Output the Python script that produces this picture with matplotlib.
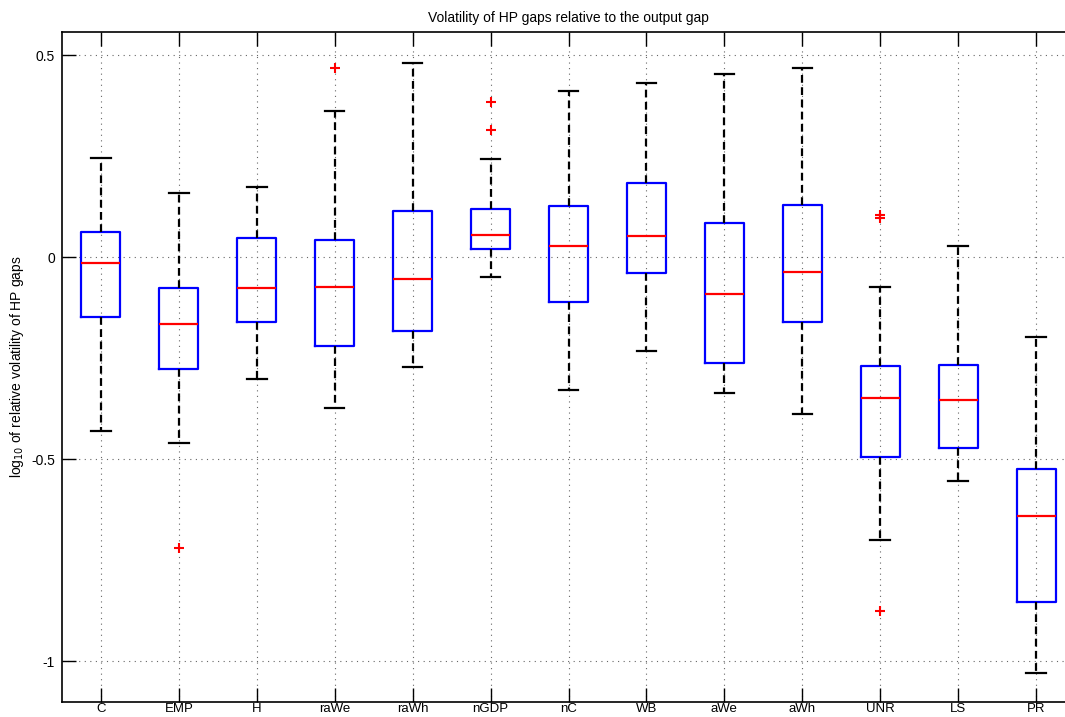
import matplotlib
matplotlib.use("Agg")
import matplotlib.pyplot as plt

plt.rcParams['font.family'] = ['Liberation Sans', 'DejaVu Sans']

categories = ["C", "EMP", "H", "raWe", "raWh", "nGDP", "nC", "WB", "aWe", "aWh", "UNR", "LS", "PR"]
whisker_low = [-0.430, -0.459, -0.301, -0.374, -0.272, -0.049, -0.329, -0.233, -0.337, -0.389, -0.701, -0.554, -1.028]
q1 = [-0.148, -0.277, -0.160, -0.219, -0.183, 0.019, -0.112, -0.039, -0.261, -0.160, -0.495, -0.472, -0.853]
medians = [-0.015, -0.166, -0.076, -0.074, -0.054, 0.055, 0.028, 0.053, -0.091, -0.036, -0.348, -0.354, -0.641]
q3 = [0.0625, -0.077, 0.047, 0.043, 0.115, 0.118, 0.127, 0.183, 0.085, 0.129, -0.269, -0.267, -0.524]
whisker_high = [0.244, 0.158, 0.173, 0.362, 0.481, 0.243, 0.410, 0.430, 0.453, 0.469, -0.075, 0.028, -0.198]
outliers = [[], [-0.720], [], [0.468], [], [0.385, 0.315], [], [], [], [], [0.104, 0.097, -0.875], [], []]

yticks = [-1, -0.5, 0, 0.5]
ytick_labels = ["-1", "-0.5", "0", "0.5"]

W, H = 1065, 717
fig = plt.figure(figsize=(W / 100, H / 100), dpi=100)
ax = fig.add_axes([62 / W, (H - 702) / H, (1075 - 62) / W, (702 - 32) / H])

stats = []
for i, name in enumerate(categories):
    stats.append(dict(label=name, whislo=whisker_low[i], q1=q1[i], med=medians[i],
                      q3=q3[i], whishi=whisker_high[i], fliers=outliers[i]))

positions = list(range(1, len(categories) + 1))
ax.bxp(stats, positions=positions, widths=0.5, showfliers=True,
       boxprops=dict(color='#0000ff', linewidth=1.6),
       medianprops=dict(color='#ff0000', linewidth=1.6),
       whiskerprops=dict(color='black', linewidth=1.6, linestyle=(0, (3.5, 2))),
       capprops=dict(color='black', linewidth=1.6),
       flierprops=dict(marker='+', markeredgecolor='#ff0000', markersize=7,
                       markeredgewidth=1.5, linestyle='none'),
       capwidths=0.25)

ax.set_xlim(0.5, 13.5)
ax.set_ylim(-1.101, 0.557)
ax.set_yticks(yticks)
ax.set_yticklabels(ytick_labels)
ax.set_xticks(positions)
ax.set_xticklabels(categories)

ax.grid(True, linestyle=(0, (1, 4)), color='#666666', linewidth=0.8)
ax.set_axisbelow(True)
ax.tick_params(direction='in', length=10, width=1, top=True, right=False,
               labelsize=10, colors='black')
ax.tick_params(axis='x', pad=1, labelsize=9.5)
ax.tick_params(axis='y', pad=5)
for s in ax.spines.values():
    s.set_linewidth(1.2)

ax.set_title("Volatility of HP gaps relative to the output gap", fontsize=10, pad=7)
ax.set_ylabel("log$_{10}$ of relative volatility of HP gaps", fontsize=10, labelpad=4)

fig.savefig("out.png", dpi=100)
